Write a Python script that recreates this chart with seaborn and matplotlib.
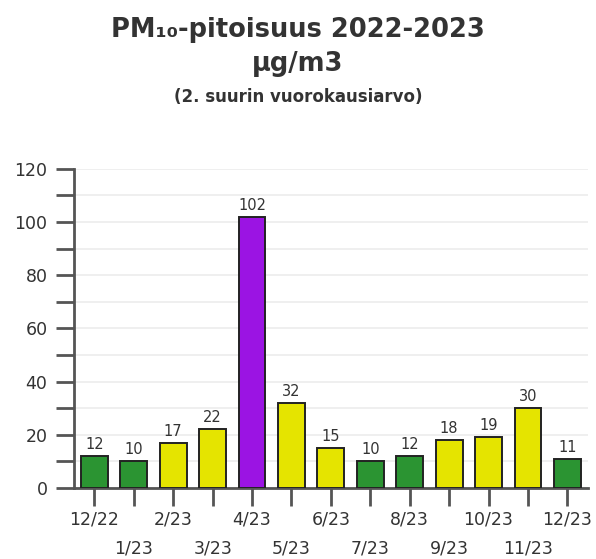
import matplotlib
matplotlib.use("Agg")
import matplotlib.pyplot as plt
import seaborn as sns
import pandas as pd
from matplotlib.ticker import MultipleLocator

# data
months = ["12/22", "1/23", "2/23", "3/23", "4/23", "5/23", "6/23",
          "7/23", "8/23", "9/23", "10/23", "11/23", "12/23"]
values = [12, 10, 17, 22, 102, 32, 15, 10, 12, 18, 19, 30, 11]


def level_colour(v):
    # air quality index colouring used in the source
    if v <= 12:
        return "#2b9432"
    if v <= 50:
        return "#e5e400"
    return "#9b14e3"


colours = [level_colour(v) for v in values]
df = pd.DataFrame({"month": months, "value": values})

sns.set_theme(style="white")
plt.rcParams["font.family"] = ["DejaVu Sans"]
plt.rcParams["xtick.bottom"] = True
plt.rcParams["ytick.left"] = True

fig = plt.figure(figsize=(5.96, 5.59), dpi=100)
ax = fig.add_axes([0.124, 0.127, 0.863, 0.571])

sns.barplot(data=df, x="month", y="value", hue="month", palette=colours,
            saturation=1, legend=False, width=0.68, edgecolor="#222222",
            linewidth=1.4, ax=ax, zorder=3)

for cont in ax.containers:
    ax.bar_label(cont, padding=3, fontsize=10.5, color="#333333")

ax.set_ylim(0, 120)
ax.set_xlim(-0.52, 12.53)
ax.yaxis.set_major_locator(MultipleLocator(20))
ax.yaxis.set_minor_locator(MultipleLocator(10))
ax.grid(axis="y", which="both", color="#ececec", linewidth=1.2, zorder=0)
ax.set_axisbelow(True)
ax.set_xlabel("")
ax.set_ylabel("")

for side in ["top", "right"]:
    ax.spines[side].set_visible(False)
for side in ["left", "bottom"]:
    ax.spines[side].set_color("#555555")
    ax.spines[side].set_linewidth(2)

ax.tick_params(axis="both", which="both", direction="out", length=13,
               width=2, color="#555555", labelsize=12.5, labelcolor="#333333")
ax.tick_params(axis="y", which="both", left=True, pad=6)
ax.tick_params(axis="x", bottom=True, pad=3)
for i, tick in enumerate(ax.xaxis.get_major_ticks()):
    if i % 2 == 1:
        tick.set_pad(24)

fig.text(0.5, 0.946, "PM₁₀-pitoisuus 2022-2023", ha="center", va="center",
         fontsize=18.5, fontweight="bold", color="#333333")
fig.text(0.5, 0.886, "µg/m3", ha="center", va="center",
         fontsize=18.5, fontweight="bold", color="#333333")
fig.text(0.5, 0.826, "(2. suurin vuorokausiarvo)", ha="center", va="center",
         fontsize=12, fontweight="bold", color="#333333")

plt.savefig("out.png", dpi=100)
